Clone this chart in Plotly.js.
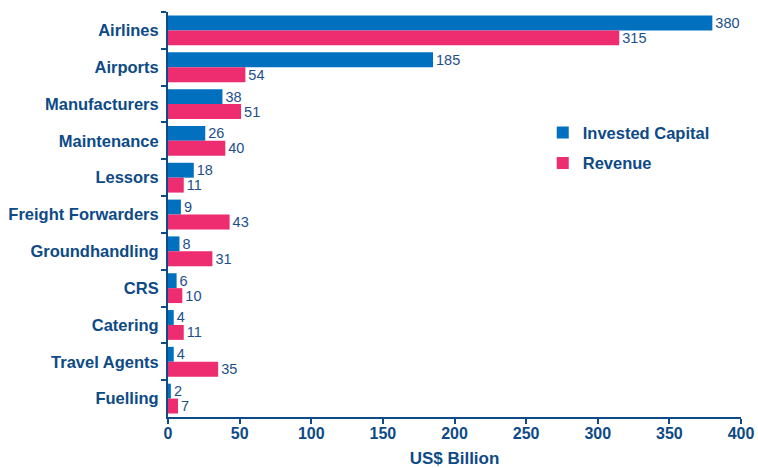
<!DOCTYPE html>
<html>
<head>
<meta charset="utf-8">
<script src="https://cdn.plot.ly/plotly-3.0.1.min.js"></script>
<style>html,body{margin:0;padding:0;background:#fff;}#chart{width:758px;height:468px;}</style>
</head>
<body>
<div id="chart"></div>
<script>
const categories = ["Airlines","Airports","Manufacturers","Maintenance","Lessors","Freight Forwarders","Groundhandling","CRS","Catering","Travel Agents","Fuelling"];
const investedCapital = [380,185,38,26,18,9,8,6,4,4,2];
const revenue = [315,54,51,40,11,43,31,10,11,35,7];
const xTicks = [0,50,100,150,200,250,300,350,400];

const navy = "#0d4a86";
const blue = "#0070bf";
const pink = "#ee2c70";
const fontFam = "Liberation Sans, Arial, Helvetica, sans-serif";

const traces = [
  {type:"bar", orientation:"h", name:"Invested Capital", legendgroup:"a", y:categories, x:investedCapital,
   marker:{color:blue}, text:investedCapital.map(String), textposition:"outside",
   textfont:{family:fontFam,size:14.5,color:"#1d4f8a"}, cliponaxis:false, constraintext:"none", hoverinfo:"x+y"},
  {type:"bar", orientation:"h", name:"Revenue", legendgroup:"b", y:categories, x:revenue,
   marker:{color:pink}, text:revenue.map(String), textposition:"outside",
   textfont:{family:fontFam,size:14.5,color:"#1d4f8a"}, cliponaxis:false, constraintext:"none", hoverinfo:"x+y"}
];

const layout = {
  width:758, height:468,
  margin:{l:168, r:17, t:12, b:51},
  paper_bgcolor:"#fff", plot_bgcolor:"#fff",
  font:{family:fontFam, color:navy},
  barmode:"group", bargap:0.19, bargroupgap:0,
  showlegend:true,
  legend:{x:0.654, y:0.745, xanchor:"left", yanchor:"top", bgcolor:"rgba(0,0,0,0)",
          font:{family:fontFam, size:16.5, color:navy, weight:"bold"}, traceorder:"grouped", tracegroupgap:6, itemwidth:30},
  xaxis:{range:[0,400], tickvals:xTicks, ticktext:xTicks.map(String), showgrid:false, zeroline:false,
         showline:true, linecolor:navy, linewidth:2, ticks:"outside", ticklen:5, tickwidth:2, tickcolor:navy,
         ticklabelstandoff:-4,
         tickfont:{family:fontFam, size:16, color:navy, weight:"bold"},
         title:{text:"US$ Billion", font:{family:fontFam, size:17, color:navy, weight:"bold"}, standoff:14}},
  yaxis:{autorange:"reversed", type:"category", showgrid:false, zeroline:false,
         showline:true, linecolor:navy, linewidth:2, ticks:"outside", ticklen:5, tickwidth:2, tickcolor:navy,
         tickson:"boundaries", ticklabelstandoff:4,
         tickfont:{family:fontFam, size:16.5, color:navy, weight:"bold"}}
};

Plotly.newPlot("chart", traces, layout, {displayModeBar:false, staticPlot:true});
</script>
</body>
</html>
